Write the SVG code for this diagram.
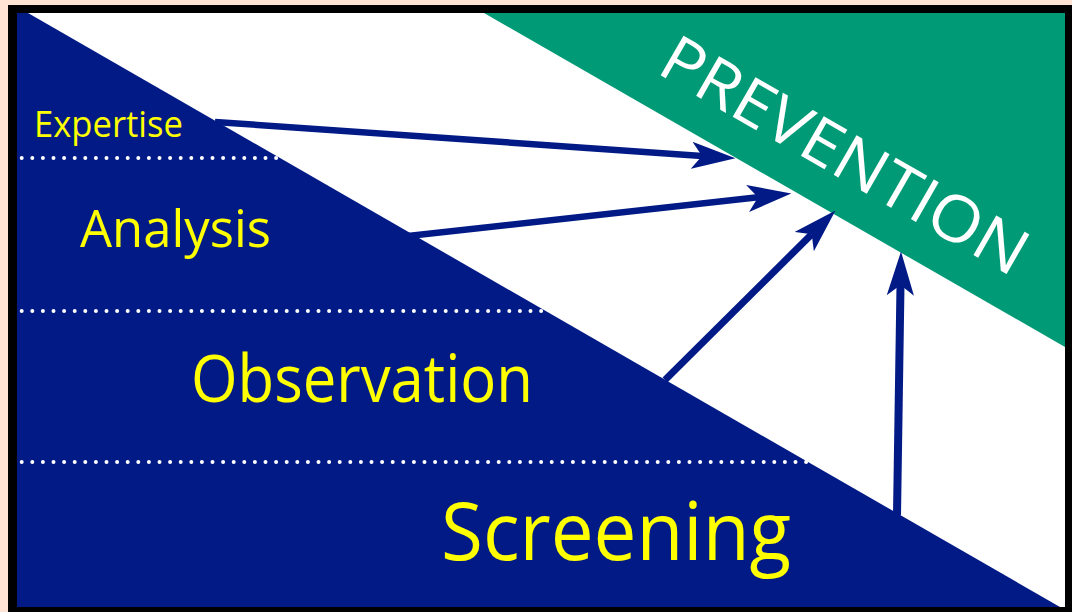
<svg xmlns="http://www.w3.org/2000/svg" width="1072" height="612" viewBox="0 0 1072 612">
  <defs>
    <style>
      .lbl { font-family: "Open Sans", "Liberation Sans", sans-serif; font-weight: 500; fill: #ffff00; }
      .dots { stroke: #ffffff; stroke-width: 4; stroke-linecap: round; stroke-dasharray: 0 10.6; fill: none; }
      .arrow { stroke: #021a86; fill: none; marker-end: url(#head); }
    </style>
    <marker id="head" markerUnits="userSpaceOnUse" markerWidth="44" markerHeight="28" viewBox="0 0 42 26" refX="10" refY="13" orient="auto">
      <path d="M0,0 L42,13 L0,26 L10,13 z" fill="#021a86"/>
    </marker>
  </defs>
  <rect x="0" y="0" width="1072" height="612" fill="#ffe4d6"/>
  <rect x="8" y="5" width="1064" height="607" fill="#000000"/>
  <rect x="17" y="13" width="1048" height="594" fill="#ffffff"/>
  <polygon id="base" points="17,13 28,13 1060,607 17,607" fill="#021a86"/>
  <polygon id="prevention-band" points="484,13 1065,13 1065,347" fill="#009b76"/>

  <g id="dividers">
    <line class="dots" x1="21.7" y1="158" x2="280" y2="158"/>
    <line class="dots" x1="21.7" y1="311" x2="545" y2="311"/>
    <line class="dots" x1="21.7" y1="462" x2="808" y2="462"/>
  </g>

  <g id="expertise"><text class="lbl" x="34" y="137" font-size="37" textLength="149" lengthAdjust="spacingAndGlyphs">Expertise</text></g>
  <g id="analysis"><text class="lbl" x="80" y="247" font-size="51" textLength="191" lengthAdjust="spacingAndGlyphs">Analysis</text></g>
  <g id="observation"><text class="lbl" x="191" y="402" font-size="65" textLength="342" lengthAdjust="spacingAndGlyphs">Observation</text></g>
  <g id="screening"><text class="lbl" x="441" y="560" font-size="81" textLength="350" lengthAdjust="spacingAndGlyphs">Screening</text></g>
  <g id="prevention">
    <text transform="translate(655,72) rotate(29.9)" x="0" y="0" font-family="Open Sans, Liberation Sans, sans-serif" font-weight="500" font-size="64" fill="#ffffff" textLength="412" lengthAdjust="spacingAndGlyphs">PREVENTION</text>
  </g>

  <g id="connectors">
    <line class="arrow" stroke-width="6.5" x1="215" y1="122" x2="702" y2="156"/>
    <line class="arrow" stroke-width="6.5" x1="408" y1="236" x2="758" y2="197.3"/>
    <line class="arrow" stroke-width="7" x1="665" y1="380" x2="811.7" y2="234.2"/>
    <line class="arrow" stroke-width="8" x1="897" y1="515" x2="900.5" y2="285"/>
  </g>
</svg>
